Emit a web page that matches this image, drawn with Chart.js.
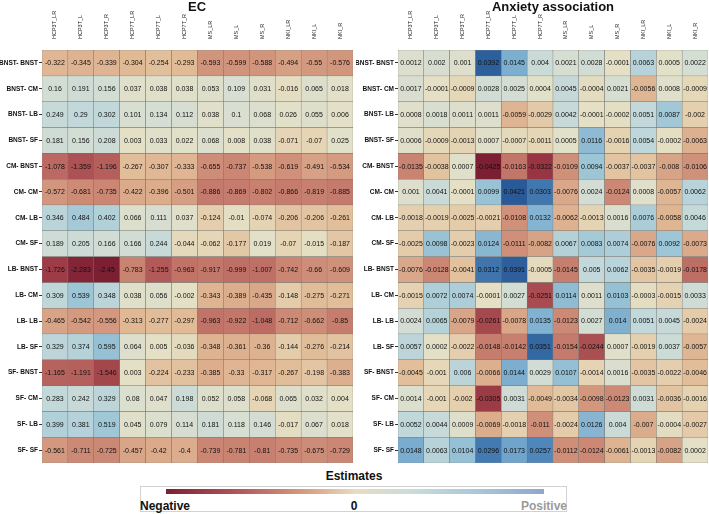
<!DOCTYPE html>
<html>
<head>
<meta charset="utf-8">
<script src="https://cdn.jsdelivr.net/npm/chart.js@4.4.0/dist/chart.umd.min.js"></script>
<style>
    body { margin: 0; background: #fff; font-family: "Liberation Sans", Arial, sans-serif; }
    #wrap { position: relative; width: 709px; height: 514px; overflow: hidden; }
    canvas { position: absolute; top: 0; }
    .title { position: absolute; top: 0; font-size: 13px; line-height: 13px; font-weight: bold; color: #111; text-align: center; }
    .legTitle { position: absolute; left: 254px; width: 200px; top: 469px; text-align: center; font-size: 12px; font-weight: bold; color: #111; }
    .legBox { position: absolute; left: 140px; top: 486px; width: 427px; height: 26px; border: 1px solid #d2d2d2; box-sizing: border-box; }
    .legBar { position: absolute; left: 166px; top: 489px; width: 378px; height: 5px;
        background: linear-gradient(to right, #7d1f33 0%, #b35a5c 20%, #d9a282 38%, #e8dcc0 50%, #c9dcdc 65%, #a9c8d8 82%, #8ea7cc 100%); }
    .legText { position: absolute; top: 500px; font-size: 12px; line-height: 13px; font-weight: bold; }
</style>
</head>
<body>
<div id="wrap">
    <canvas id="ecChart" width="356" height="468" style="left:0"></canvas>
    <canvas id="anxChart" width="353" height="468" style="left:356px"></canvas>
    <div class="title" style="left:97px;width:200px">EC</div>
    <div class="title" style="left:453px;width:200px">Anxiety association</div>
    <div class="legTitle">Estimates</div>
    <div class="legBox"></div>
    <div class="legBar"></div>
    <div class="legText" style="left:140px;color:#111">Negative</div>
    <div class="legText" style="left:330px;width:48px;text-align:center;color:#111">0</div>
    <div class="legText" style="left:500px;width:67px;text-align:right;color:#9a9a9a">Positive</div>
</div>
<script>
// Row and column labels
var rowLabels = ['BNST- BNST', 'BNST- CM', 'BNST- LB', 'BNST- SF', 'CM- BNST', 'CM- CM', 'CM- LB', 'CM- SF',
    'LB- BNST', 'LB- CM', 'LB- LB', 'LB- SF', 'SF- BNST', 'SF- CM', 'SF- LB', 'SF- SF'];
var colLabels = ['HCP3T_LR', 'HCP3T_L', 'HCP3T_R', 'HCP7T_LR', 'HCP7T_L', 'HCP7T_R',
    'MS_LR', 'MS_L', 'MS_R', 'NKI_LR', 'NKI_L', 'NKI_R'];

// EC estimates (one row per connection)
var ecValues = [
    [-0.322, -0.345, -0.339, -0.304, -0.254, -0.293, -0.593, -0.599, -0.588, -0.494, -0.55, -0.576],
    [0.16, 0.191, 0.156, 0.037, 0.038, 0.038, 0.053, 0.109, 0.031, -0.016, 0.065, 0.018],
    [0.249, 0.29, 0.302, 0.101, 0.134, 0.112, 0.038, 0.1, 0.068, 0.026, 0.055, 0.006],
    [0.181, 0.156, 0.208, 0.003, 0.033, 0.022, 0.068, 0.008, 0.038, -0.071, -0.07, 0.025],
    [-1.078, -1.359, -1.196, -0.267, -0.307, -0.333, -0.655, -0.737, -0.538, -0.619, -0.491, -0.534],
    [-0.572, -0.681, -0.735, -0.422, -0.396, -0.501, -0.886, -0.869, -0.802, -0.866, -0.819, -0.885],
    [0.346, 0.484, 0.402, 0.066, 0.111, 0.037, -0.124, -0.01, -0.074, -0.206, -0.206, -0.261],
    [0.189, 0.205, 0.166, 0.166, 0.244, -0.044, -0.062, -0.177, 0.019, -0.07, -0.015, -0.187],
    [-1.726, -2.283, -2.45, -0.783, -1.255, -0.963, -0.917, -0.999, -1.007, -0.742, -0.66, -0.609],
    [0.309, 0.539, 0.348, 0.038, 0.056, -0.002, -0.343, -0.389, -0.435, -0.148, -0.275, -0.271],
    [-0.465, -0.542, -0.556, -0.313, -0.277, -0.297, -0.963, -0.922, -1.048, -0.712, -0.662, -0.85],
    [0.329, 0.374, 0.595, 0.064, 0.005, -0.036, -0.348, -0.361, -0.36, -0.144, -0.276, -0.214],
    [-1.165, -1.191, -1.546, 0.003, -0.224, -0.233, -0.385, -0.33, -0.317, -0.267, -0.198, -0.383],
    [0.283, 0.242, 0.329, 0.08, 0.047, 0.198, 0.052, 0.058, -0.068, 0.065, 0.032, 0.004],
    [0.399, 0.381, 0.519, 0.045, 0.079, 0.114, 0.181, 0.118, 0.146, -0.017, 0.067, 0.018],
    [-0.561, -0.711, -0.725, -0.457, -0.42, -0.4, -0.739, -0.781, -0.81, -0.735, -0.675, -0.729]
];

// Anxiety association estimates
var anxValues = [
    [0.0012, 0.002, 0.001, 0.0392, 0.0145, 0.004, 0.0021, 0.0028, -0.0001, 0.0063, 0.0005, 0.0022],
    [0.0017, -0.0001, -0.0009, 0.0028, 0.0025, 0.0004, 0.0045, -0.0004, 0.0021, -0.0056, 0.0008, -0.0009],
    [0.0008, 0.0018, 0.0011, 0.0011, -0.0059, -0.0029, 0.0042, -0.0001, -0.0002, 0.0051, 0.0087, -0.002],
    [0.0006, -0.0009, -0.0013, 0.0007, -0.0007, -0.0011, 0.0005, 0.0116, -0.0016, 0.0054, -0.0002, -0.0063],
    [-0.0135, -0.0038, 0.0007, -0.0425, -0.0163, -0.0322, -0.0109, 0.0094, -0.0037, -0.0037, -0.008, -0.0106],
    [0.001, 0.0041, -0.0001, 0.0099, 0.0421, 0.0303, -0.0076, 0.0024, -0.0124, 0.0008, -0.0057, 0.0062],
    [-0.0018, -0.0019, -0.0025, -0.0021, -0.0108, 0.0132, -0.0062, -0.0013, 0.0016, 0.0076, -0.0058, 0.0046],
    [-0.0025, 0.0098, -0.0023, 0.0124, -0.0111, -0.0082, 0.0067, 0.0083, 0.0074, -0.0076, 0.0092, -0.0073],
    [-0.0076, -0.0128, -0.0041, 0.0312, 0.0391, -0.0005, -0.0145, 0.005, 0.0062, -0.0035, -0.0019, -0.0178],
    [-0.0015, 0.0072, 0.0074, -0.0001, 0.0027, -0.0251, 0.0114, 0.0011, 0.0103, -0.0003, -0.0015, 0.0033],
    [0.0024, 0.0065, -0.0079, -0.0261, -0.0078, 0.0135, -0.0123, 0.0027, 0.014, 0.0051, 0.0045, -0.0024],
    [0.0057, 0.0002, -0.0022, -0.0148, -0.0142, 0.0351, -0.0154, -0.0244, 0.0007, -0.0019, 0.0037, -0.0057],
    [-0.0045, -0.001, 0.006, -0.0066, 0.0144, 0.0029, 0.0107, -0.0014, 0.0016, -0.0035, -0.0022, -0.0046],
    [0.0014, -0.001, -0.002, -0.0305, 0.0031, -0.0049, -0.0034, -0.0098, -0.0123, 0.0031, -0.0036, -0.0016],
    [0.0052, 0.0044, 0.0009, -0.0069, -0.0018, -0.011, -0.0024, 0.0126, 0.004, -0.007, -0.0004, -0.0027],
    [0.0148, 0.0063, 0.0104, 0.0296, 0.0173, 0.0257, -0.0112, -0.0124, -0.0061, -0.0013, -0.0082, 0.0002]
];

// Diverging palette (value scaled to -1..1)
var colorStops = [
    [-1, [125, 31, 51]], [-0.75, [152, 54, 67]], [-0.55, [172, 82, 84]], [-0.4, [192, 114, 103]],
    [-0.25, [208, 145, 122]], [-0.12, [225, 186, 150]], [-0.03, [229, 212, 180]], [0, [228, 224, 198]],
    [0.05, [214, 222, 210]], [0.12, [194, 216, 218]], [0.22, [156, 197, 214]], [0.35, [122, 172, 207]],
    [0.6, [80, 136, 188]], [0.8, [54, 106, 165]], [1, [40, 88, 150]]
];

function cellColor(v, maxAbs) {
    var t = Math.max(-1, Math.min(1, v / maxAbs));
    for (var k = 1; k < colorStops.length; k++) {
        if (t <= colorStops[k][0]) {
            var a = colorStops[k - 1], b = colorStops[k];
            var f = (t - a[0]) / (b[0] - a[0]);
            var c = a[1].map(function (x, n) { return Math.round(x + (b[1][n] - x) * f); });
            return 'rgb(' + c.join(',') + ')';
        }
    }
    return 'rgb(40,88,150)';
}

// Plugin that writes the value inside each cell
var cellText = {
    id: 'cellText',
    afterDatasetsDraw: function (chart) {
        var ctx = chart.ctx;
        ctx.save();
        ctx.font = '7px "Liberation Sans", Arial, sans-serif';
        ctx.fillStyle = '#111';
        ctx.textAlign = 'center';
        ctx.textBaseline = 'middle';
        chart.data.datasets.forEach(function (ds, i) {
            chart.getDatasetMeta(i).data.forEach(function (bar, j) {
                ctx.fillText(String(ds.values[j]), bar.x, (bar.y + bar.base) / 2 + 0.5);
            });
        });
        ctx.restore();
    }
};

// Column names: vertical, reading upward, ending just above the grid
var colText = {
    id: 'colText',
    afterDraw: function (chart) {
        var ctx = chart.ctx;
        var xs = chart.scales.x;
        ctx.save();
        ctx.font = '5.5px "Liberation Sans", Arial, sans-serif';
        ctx.fillStyle = '#222';
        ctx.textAlign = 'left';
        ctx.textBaseline = 'middle';
        xs.ticks.forEach(function (t, i) {
            ctx.save();
            ctx.translate(xs.getPixelForTick(i), chart.chartArea.top - 11);
            ctx.rotate(-Math.PI / 2);
            ctx.fillText(chart.data.labels[i], 0, 0);
            ctx.restore();
        });
        ctx.restore();
    }
};

function makeHeatmap(canvasId, values, padRight) {
    var maxAbs = 0;
    values.forEach(function (row) {
        row.forEach(function (v) { maxAbs = Math.max(maxAbs, Math.abs(v)); });
    });

    // one floating bar dataset per row, bars overlap inside each column
    var datasets = values.map(function (row, i) {
        return {
            data: row.map(function () { return [i, i + 1]; }),
            values: row,
            backgroundColor: row.map(function (v) { return cellColor(v, maxAbs); }),
            borderColor: '#73736d',
            borderWidth: 0.5,
            borderSkipped: false,
            barPercentage: 1,
            categoryPercentage: 1,
            grouped: false
        };
    });

    new Chart(document.getElementById(canvasId), {
        type: 'bar',
        data: { labels: colLabels, datasets: datasets },
        options: {
            responsive: false,
            animation: false,
            layout: { padding: { top: 0, right: padRight, bottom: 5, left: 0 } },
            plugins: { legend: { display: false }, tooltip: { enabled: false } },
            scales: {
                x: {
                    position: 'top',
                    grid: { display: false },
                    border: { display: false },
                    ticks: { display: false, autoSkip: false },
                    afterFit: function (s) { s.height = 50; }
                },
                y: {
                    min: 0,
                    max: 16,
                    reverse: true,
                    grid: { drawOnChartArea: false, tickLength: 3, color: '#333' },
                    border: { display: false },
                    afterBuildTicks: function (s) {
                        s.ticks = rowLabels.map(function (l, i) { return { value: i + 0.5 }; });
                    },
                    ticks: {
                        autoSkip: false, padding: 1, color: '#111',
                        font: { size: 6.5, weight: 'bold', family: '"Liberation Sans", Arial, sans-serif' },
                        callback: function (v, i) { return rowLabels[i]; }
                    },
                    afterFit: function (s) { s.width = 42; }
                }
            }
        },
        plugins: [cellText, colText]
    });
}

makeHeatmap('ecChart', ecValues, 3);
makeHeatmap('anxChart', anxValues, 1);
</script>
</body>
</html>
